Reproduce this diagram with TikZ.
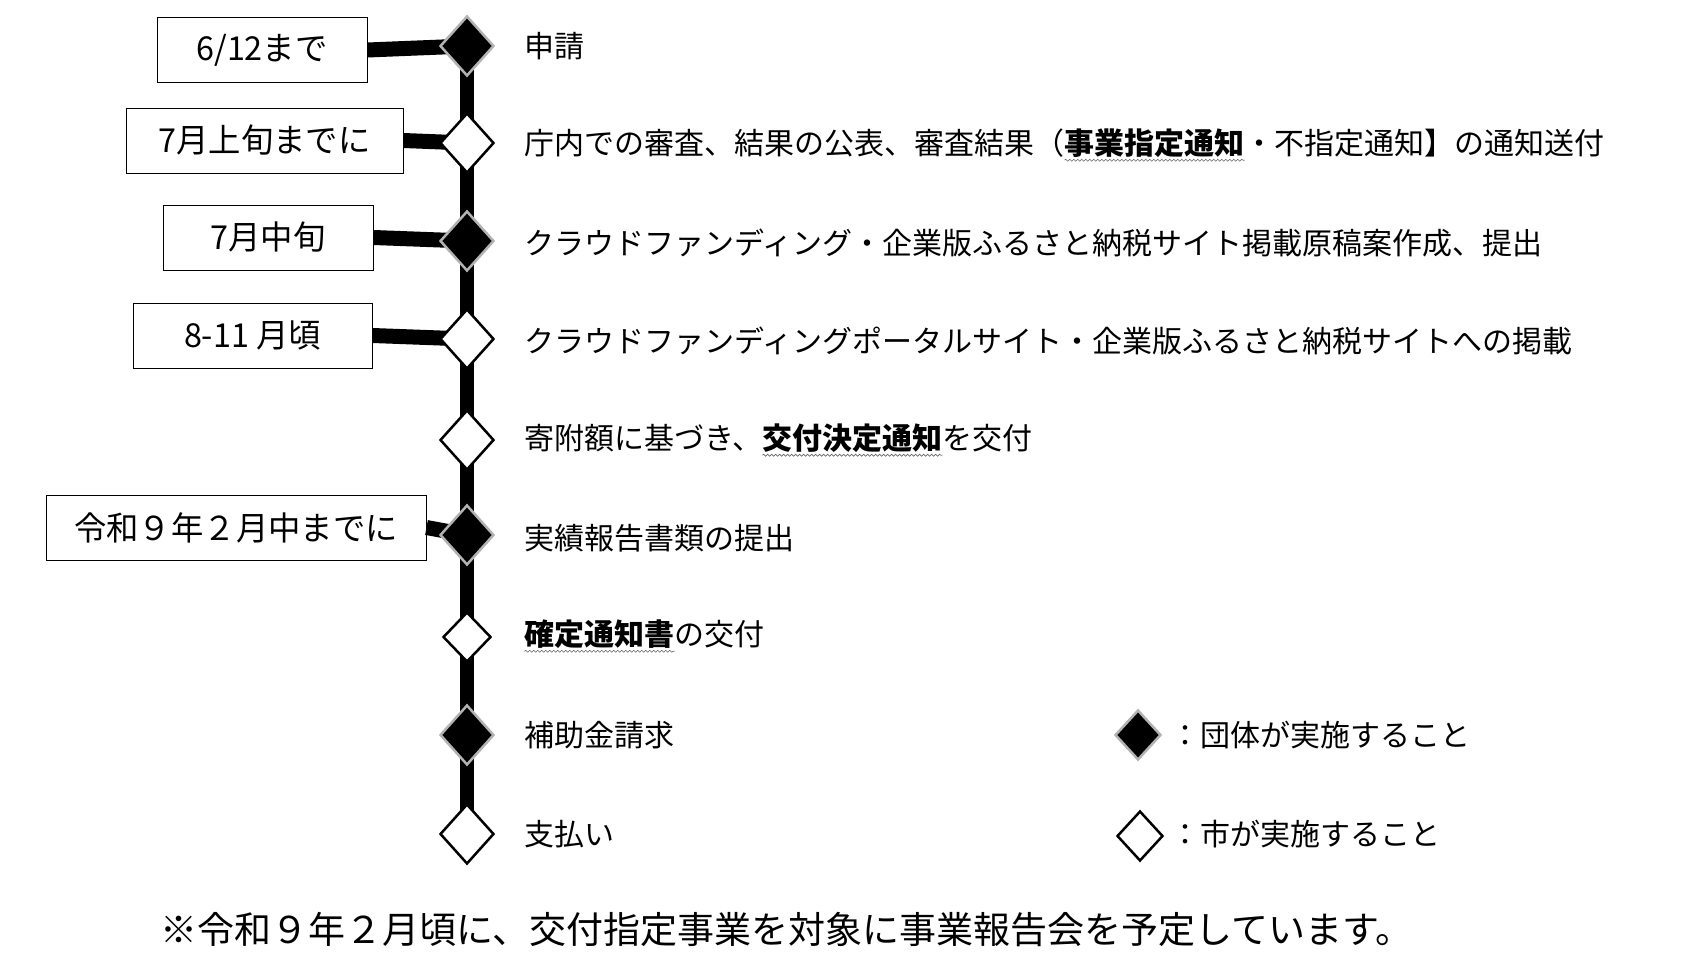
\documentclass[tikz,border=0pt]{standalone}
\usepackage{fontspec}
\setmainfont{Noto Sans CJK JP}
\usetikzlibrary{shapes.geometric,decorations.pathmorphing}
\newcommand\uw[1]{\tikz[baseline=(uwx.base)]{\node[inner sep=0pt,outer sep=0pt] (uwx) {\textbf{#1}};\draw[black!60,line width=0.6pt,decorate,decoration={snake,amplitude=1pt,segment length=4pt}] ([yshift=-3pt]uwx.south west) -- ([yshift=-3pt]uwx.south east);}}
\newcommand\sx[1]{\scalebox{1.0}[1]{#1}}
\newcommand\bx[1]{\scalebox{0.98}[1]{#1}}
\begin{document}
\begin{tikzpicture}[x=1pt,y=-1pt,
  dia/.style={diamond,inner sep=0pt,minimum width=54pt,minimum height=60pt,line width=2.5pt},
  grp/.style={dia,fill=black,draw=black!30},
  city/.style={dia,fill=white,draw=black},
  box/.style={draw,line width=1pt,inner sep=0pt,font=\fontsize{33}{36}\selectfont},
  lbl/.style={anchor=west,inner sep=0pt,font=\fontsize{30}{33}\selectfont},
  conn/.style={line width=15pt}]
\useasboundingbox (0,0) rectangle (1694,974);
% boxes
\node[box,minimum width=210pt,minimum height=65pt] (b1) at (262,50) {\bx{6/12まで}};
\node[box,minimum width=277pt,minimum height=65pt] (b2) at (264.5,140.5) {\bx{7月上旬までに}};
\node[box,minimum width=210pt,minimum height=65pt] (b3) at (268,237.5) {\bx{7月中旬}};
\node[box,minimum width=239pt,minimum height=65pt] (b4) at (252.5,335.5) {\bx{8-11 月頃}};
\node[box,minimum width=380pt,minimum height=65pt] (b5) at (236,527.5) {\bx{令和９年２月中までに}};
\coordinate (p1) at (467,46);
\coordinate (p9) at (467,834);
\draw[line width=14pt] (p1) -- (p9);
\draw[conn] (b1.east) -- (467,46);
\draw[conn] (b2.east) -- (467,143);
\draw[conn] (b3.east) -- (467,241);
\draw[conn] (b4.east) -- (467,339);
\draw[conn] (b5.east) -- (467,535);
\node[grp] (d1) at (467,46) {};
\node[city] (d2) at (467,143) {};
\node[grp] (d3) at (467,241) {};
\node[city] (d4) at (467,339) {};
\node[city] (d5) at (467,440) {};
\node[grp] (d6) at (467,535) {};
\node[city,minimum width=48pt,minimum height=50pt] (d7) at (467,637) {};
\node[grp] (d8) at (467,735) {};
\node[city] (d9) at (467,834) {};
% labels
\node[lbl] (t1) at (524,46) {\sx{申請}};
\node[lbl] (t2) at (524,145) {\sx{庁内での審査、結果の公表、審査結果（\uw{事業指定通知}・不指定通知】の通知送付}};
\node[lbl] (t3) at (524,243) {\sx{クラウドファンディング・企業版ふるさと納税サイト掲載原稿案作成、提出}};
\node[lbl] (t4) at (524,341) {\sx{クラウドファンディングポータルサイト・企業版ふるさと納税サイトへの掲載}};
\node[lbl] (t5) at (524,440) {\sx{寄附額に基づき、\uw{交付決定通知}を交付}};
\node[lbl] (t6) at (524,538) {\sx{実績報告書類の提出}};
\node[lbl] (t7) at (524,636) {\sx{\uw{確定通知書}の交付}};
\node[lbl] (t8) at (524,735) {\sx{補助金請求}};
\node[lbl] (t9) at (524,834) {\sx{支払い}};
% legend
\node[grp,minimum width=46pt,minimum height=50pt] (lg1) at (1138,735) {};
\node[city,minimum width=46pt,minimum height=50pt] (lg2) at (1140,836) {};
\node[lbl] (lt1) at (1170,735) {\sx{：団体が実施すること}};
\node[lbl] (lt2) at (1170,834) {\sx{：市が実施すること}};
\node[anchor=west,inner sep=0pt,font=\fontsize{37}{40}\selectfont] (fn) at (160,930) {※令和９年２月頃に、交付指定事業を対象に事業報告会を予定しています。};
\end{tikzpicture}
\end{document}
